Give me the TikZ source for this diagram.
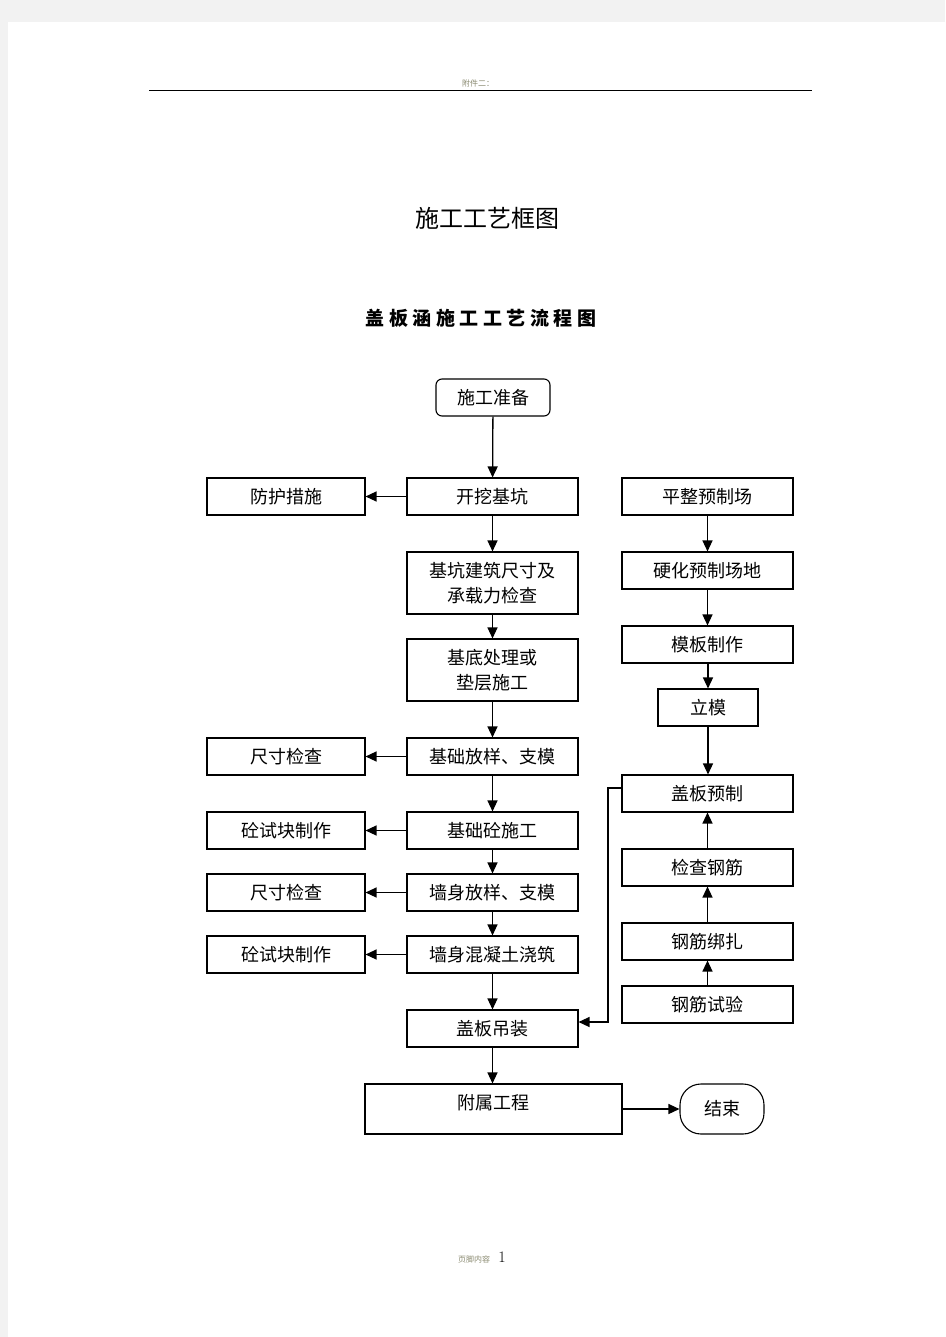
\documentclass[tikz,border=0pt]{standalone}
\usepackage{fontspec}
\newfontfamily\cjk{Noto Sans CJK SC}
\newfontfamily\cjkwide[LetterSpace=24]{Noto Sans CJK SC}
\usetikzlibrary{arrows.meta}
\definecolor{pagegray}{HTML}{F2F2F2}
\definecolor{headgray}{HTML}{8A8A70}

\begin{document}
\begin{tikzpicture}[x=1pt,y=-1pt,
  box/.style={draw, line width=1.1pt, minimum width=171pt, minimum height=37pt,
    inner sep=0pt, align=center, font=\cjk\fontsize{18}{25}\selectfont},
  side/.style={box, minimum width=158pt},
  flow/.style={line width=1.3pt, -{Triangle[length=11pt,width=10pt]}}]
  % page
  \fill[pagegray] (0,0) rectangle (945,1337);
  \fill[white] (8,22) rectangle (945,1337);
  \useasboundingbox (0,0) rectangle (945,1337);
  % header, title, footer
  \node[font=\cjk\fontsize{8}{9}\selectfont, text=headgray] (head) at (478,83) {附件二：};
  \draw[line width=1.2pt] (149,90.5) -- (812,90.5);
  \node[font=\cjk\fontsize{24}{28}\selectfont] (title) at (487,218) {施工工艺框图};
  \node[font=\cjkwide\bfseries\fontsize{19}{22}\selectfont] (subtitle) at (481,318) {盖板涵施工工艺流程图};
  \node[font=\cjk\fontsize{8}{9}\selectfont, text=headgray] (foot) at (474,1259) {页脚内容};
  \node[font=\fontsize{16}{18}\selectfont] (pagenum) at (502,1257) {1};

  % middle column
  \node[box, minimum width=114pt, rounded corners=6pt] (zb) at (493,397.5) {施工准备};
  \node[box] (kw) at (492.5,496.5) {开挖基坑};
  \node[box, minimum height=62pt] (jk) at (492.5,583) {基坑建筑尺寸及\\承载力检查};
  \node[box, minimum height=62pt] (jd) at (492.5,670) {基底处理或\\垫层施工};
  \node[box] (jcfy) at (492.5,756.5) {基础放样、支模};
  \node[box] (jcsg) at (492.5,830.5) {基础砼施工};
  \node[box] (qsfy) at (492.5,892.5) {墙身放样、支模};
  \node[box] (qsjz) at (492.5,954.5) {墙身混凝土浇筑};
  \node[box] (gbdz) at (492.5,1028.5) {盖板吊装};
  \node[box, minimum width=257pt, minimum height=50pt,
    label={[font=\cjk\fontsize{18}{25}\selectfont, yshift=6pt]center:附属工程}] (fsgc) at (493.5,1109) {};
  \node[box, minimum width=84pt, minimum height=50pt, rounded corners=21pt] (js) at (722,1109) {结束};

  % left column
  \node[side] (fh) at (286,496.5) {防护措施};
  \node[side] (cc1) at (286,756.5) {尺寸检查};
  \node[side] (sk1) at (286,830.5) {砼试块制作};
  \node[side] (cc2) at (286,892.5) {尺寸检查};
  \node[side] (sk2) at (286,954.5) {砼试块制作};

  % right column
  \node[box] (pz) at (707.5,496.5) {平整预制场};
  \node[box] (yh) at (707.5,570.5) {硬化预制场地};
  \node[box] (mb) at (707.5,644.5) {模板制作};
  \node[box, minimum width=100pt] (lm) at (708,707.5) {立模};
  \node[box] (gbyz) at (707.5,793.5) {盖板预制};
  \node[box] (jcgj) at (707.5,867.5) {检查钢筋};
  \node[box] (bz) at (707.5,941.5) {钢筋绑扎};
  \node[box] (sy) at (707.5,1004.5) {钢筋试验};

  % main flow
  \draw[flow] (zb) -- (kw);
  \draw[flow] (kw) -- (jk);
  \draw[flow] (jk) -- (jd);
  \draw[flow] (jd) -- (jcfy);
  \draw[flow] (jcfy) -- (jcsg);
  \draw[flow] (jcsg) -- (qsfy);
  \draw[flow] (qsfy) -- (qsjz);
  \draw[flow] (qsjz) -- (gbdz);
  \draw[flow] (gbdz) -- (gbdz |- fsgc.north);
  \draw[flow] (fsgc) -- (js);
  % side checks
  \draw[flow] (kw) -- (fh);
  \draw[flow] (jcfy) -- (cc1);
  \draw[flow] (jcsg) -- (sk1);
  \draw[flow] (qsfy) -- (cc2);
  \draw[flow] (qsjz) -- (sk2);
  % precast slab
  \draw[flow] (pz) -- (yh);
  \draw[flow] (yh) -- (mb);
  \draw[flow] (mb.south -| lm) -- (lm);
  \draw[flow] (lm) -- (lm |- gbyz.north);
  \draw[flow] (sy) -- (bz);
  \draw[flow] (bz) -- (jcgj);
  \draw[flow] (jcgj) -- (gbyz);
  \coordinate (turn) at (608,788);
  \draw[flow] ([yshift=5.5pt]gbyz.west) -- (turn) -- (turn |- 0,1022) -- (gbdz.east |- 0,1022);
\end{tikzpicture}
\end{document}
